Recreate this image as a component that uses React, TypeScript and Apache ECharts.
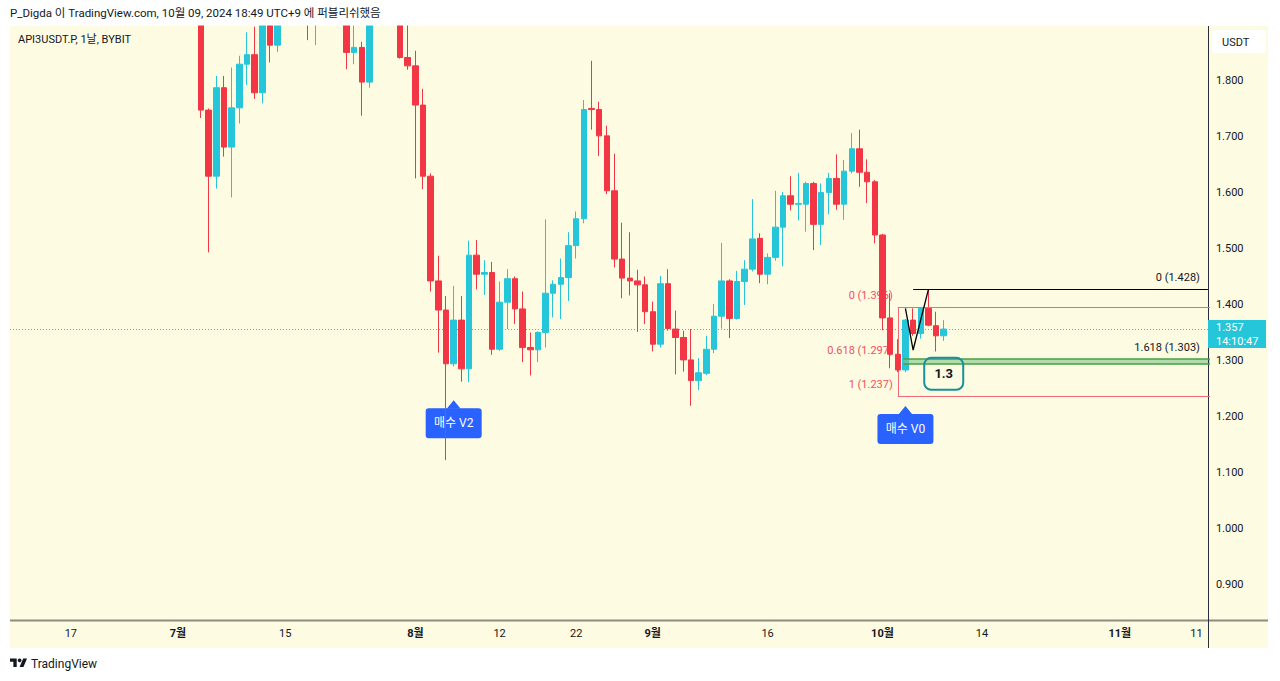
import React, { useEffect, useRef } from 'react';
import * as echarts from 'echarts';

// ---------- data ----------
const firstCategory = '2024-06-09';
const lastCategory = '2024-11-12';

// date, open, close, low, high
const ohlc: [string, number, number, number, number][] = [
  ['2024-07-04', 1.950, 1.748, 1.734, 1.965],
  ['2024-07-05', 1.748, 1.630, 1.494, 1.751],
  ['2024-07-06', 1.630, 1.788, 1.608, 1.809],
  ['2024-07-07', 1.788, 1.682, 1.665, 1.809],
  ['2024-07-08', 1.682, 1.752, 1.592, 1.824],
  ['2024-07-09', 1.752, 1.830, 1.724, 1.845],
  ['2024-07-10', 1.830, 1.847, 1.793, 1.887],
  ['2024-07-11', 1.847, 1.779, 1.768, 1.897],
  ['2024-07-12', 1.779, 1.930, 1.760, 1.945],
  ['2024-07-13', 1.930, 1.864, 1.833, 1.950],
  ['2024-07-14', 1.864, 1.960, 1.852, 1.975],
  ['2024-07-15', 1.960, 2.020, 1.930, 2.060],
  ['2024-07-16', 2.020, 1.990, 1.950, 2.050],
  ['2024-07-17', 1.990, 1.950, 1.910, 2.010],
  ['2024-07-18', 1.950, 1.905, 1.873, 1.970],
  ['2024-07-19', 1.905, 1.950, 1.864, 1.975],
  ['2024-07-20', 1.950, 1.980, 1.930, 2.000],
  ['2024-07-21', 1.980, 2.010, 1.950, 2.030],
  ['2024-07-22', 2.010, 1.960, 1.920, 2.040],
  ['2024-07-23', 1.960, 1.851, 1.821, 1.970],
  ['2024-07-24', 1.851, 1.860, 1.830, 1.905],
  ['2024-07-25', 1.860, 1.798, 1.738, 1.870],
  ['2024-07-26', 1.798, 1.940, 1.788, 1.960],
  ['2024-07-27', 1.940, 1.980, 1.920, 2.000],
  ['2024-07-28', 1.980, 1.960, 1.930, 2.010],
  ['2024-07-29', 1.960, 1.930, 1.905, 1.990],
  ['2024-07-30', 1.930, 1.842, 1.840, 1.950],
  ['2024-07-31', 1.842, 1.827, 1.820, 1.905],
  ['2024-08-01', 1.827, 1.757, 1.626, 1.854],
  ['2024-08-02', 1.757, 1.630, 1.607, 1.786],
  ['2024-08-03', 1.630, 1.443, 1.424, 1.635],
  ['2024-08-04', 1.443, 1.391, 1.315, 1.488],
  ['2024-08-05', 1.391, 1.295, 1.123, 1.416],
  ['2024-08-06', 1.295, 1.373, 1.290, 1.434],
  ['2024-08-07', 1.373, 1.286, 1.263, 1.416],
  ['2024-08-08', 1.286, 1.489, 1.262, 1.515],
  ['2024-08-09', 1.489, 1.455, 1.428, 1.516],
  ['2024-08-10', 1.455, 1.458, 1.418, 1.480],
  ['2024-08-11', 1.458, 1.321, 1.311, 1.477],
  ['2024-08-12', 1.321, 1.405, 1.318, 1.442],
  ['2024-08-13', 1.405, 1.447, 1.357, 1.464],
  ['2024-08-14', 1.447, 1.393, 1.366, 1.451],
  ['2024-08-15', 1.393, 1.324, 1.298, 1.424],
  ['2024-08-16', 1.324, 1.320, 1.274, 1.351],
  ['2024-08-17', 1.320, 1.351, 1.298, 1.353],
  ['2024-08-18', 1.351, 1.421, 1.324, 1.553],
  ['2024-08-19', 1.421, 1.437, 1.378, 1.444],
  ['2024-08-20', 1.437, 1.449, 1.375, 1.483],
  ['2024-08-21', 1.449, 1.506, 1.407, 1.530],
  ['2024-08-22', 1.506, 1.554, 1.483, 1.567],
  ['2024-08-23', 1.554, 1.749, 1.546, 1.766],
  ['2024-08-24', 1.751, 1.749, 1.713, 1.836],
  ['2024-08-25', 1.749, 1.702, 1.666, 1.763],
  ['2024-08-26', 1.702, 1.604, 1.598, 1.720],
  ['2024-08-27', 1.604, 1.482, 1.467, 1.670],
  ['2024-08-28', 1.482, 1.448, 1.412, 1.547],
  ['2024-08-29', 1.448, 1.443, 1.417, 1.530],
  ['2024-08-30', 1.443, 1.436, 1.352, 1.463],
  ['2024-08-31', 1.436, 1.388, 1.366, 1.451],
  ['2024-09-01', 1.388, 1.330, 1.317, 1.406],
  ['2024-09-02', 1.330, 1.438, 1.324, 1.452],
  ['2024-09-03', 1.438, 1.358, 1.354, 1.464],
  ['2024-09-04', 1.357, 1.342, 1.276, 1.390],
  ['2024-09-05', 1.342, 1.302, 1.281, 1.354],
  ['2024-09-06', 1.302, 1.265, 1.220, 1.357],
  ['2024-09-07', 1.265, 1.279, 1.248, 1.305],
  ['2024-09-08', 1.278, 1.321, 1.275, 1.345],
  ['2024-09-09', 1.321, 1.380, 1.314, 1.402],
  ['2024-09-10', 1.380, 1.443, 1.358, 1.511],
  ['2024-09-11', 1.443, 1.376, 1.341, 1.446],
  ['2024-09-12', 1.376, 1.442, 1.374, 1.461],
  ['2024-09-13', 1.442, 1.464, 1.400, 1.480],
  ['2024-09-14', 1.464, 1.518, 1.460, 1.589],
  ['2024-09-15', 1.519, 1.455, 1.439, 1.528],
  ['2024-09-16', 1.455, 1.485, 1.437, 1.492],
  ['2024-09-17', 1.485, 1.539, 1.479, 1.604],
  ['2024-09-18', 1.539, 1.595, 1.469, 1.602],
  ['2024-09-19', 1.595, 1.580, 1.569, 1.630],
  ['2024-09-20', 1.580, 1.581, 1.551, 1.636],
  ['2024-09-21', 1.580, 1.617, 1.531, 1.620],
  ['2024-09-22', 1.617, 1.544, 1.498, 1.620],
  ['2024-09-23', 1.544, 1.601, 1.507, 1.617],
  ['2024-09-24', 1.601, 1.626, 1.562, 1.636],
  ['2024-09-25', 1.626, 1.580, 1.570, 1.669],
  ['2024-09-26', 1.580, 1.639, 1.552, 1.659],
  ['2024-09-27', 1.639, 1.679, 1.635, 1.707],
  ['2024-09-28', 1.679, 1.637, 1.611, 1.713],
  ['2024-09-29', 1.637, 1.620, 1.582, 1.660],
  ['2024-09-30', 1.620, 1.525, 1.510, 1.623],
  ['2024-10-01', 1.525, 1.377, 1.355, 1.527],
  ['2024-10-02', 1.377, 1.312, 1.287, 1.421],
  ['2024-10-03', 1.312, 1.284, 1.280, 1.339],
  ['2024-10-04', 1.284, 1.373, 1.280, 1.375],
  ['2024-10-05', 1.373, 1.349, 1.345, 1.394],
  ['2024-10-06', 1.349, 1.394, 1.340, 1.396],
  ['2024-10-07', 1.394, 1.364, 1.362, 1.428],
  ['2024-10-08', 1.363, 1.345, 1.317, 1.388],
  ['2024-10-09', 1.345, 1.357, 1.336, 1.373],
];

const priceTicks = [0.9, 1.0, 1.1, 1.2, 1.3, 1.4, 1.5, 1.6, 1.7, 1.8];
const priceMin = 0.8375;
const priceMax = 1.8982;

const timeTicks: [string, string][] = [
  ['2024-06-17', '17'], ['2024-07-01', '7월'], ['2024-07-15', '15'], ['2024-08-01', '8월'],
  ['2024-08-12', '12'], ['2024-08-22', '22'], ['2024-09-01', '9월'], ['2024-09-16', '16'],
  ['2024-10-01', '10월'], ['2024-10-14', '14'], ['2024-11-01', '11월'], ['2024-11-11', '11'],
];

const lastPrice = 1.357;
const countdown = '14:10:47';

const redFibStart = '2024-10-03';
const redFibLevels = [
  { label: '0 (1.396)', price: 1.396 },
  { label: '0.618 (1.297)', price: 1.297 },
  { label: '1 (1.237)', price: 1.237 },
];
const blackFibPoints: [string, number][] = [
  ['2024-10-04', 1.394], ['2024-10-05', 1.3196], ['2024-10-07', 1.428],
];
const blackFibLevels = [
  { label: '0 (1.428)', price: 1.428 },
  { label: '1.618 (1.303)', price: 1.303 },
];
const buySignals = [
  { date: '2024-08-06', price: 1.230, text: '매수 V2' },
  { date: '2024-10-04', price: 1.2196, text: '매수 V0' },
];
const noteBox = { date: '2024-10-09', price: 1.278, text: '1.3' };

const headerText = 'P_Digda 이 TradingView.com, 10월 09, 2024 18:49 UTC+9 에 퍼블리쉬했음';
const symbolText = 'API3USDT.P, 1날, BYBIT';

// ---------- styling ----------
const FONT = 'Roboto, "Noto Sans CJK KR", sans-serif';
const UP = '#26C6DA';
const DOWN = '#F23645';
const TEXT = '#131722';
const BG = '#FEFBE3';

function buildDates(start: string, end: string): string[] {
  const out: string[] = [];
  let t = Date.parse(start + 'T00:00:00Z');
  const e = Date.parse(end + 'T00:00:00Z');
  while (t <= e) {
    out.push(new Date(t).toISOString().slice(0, 10));
    t += 86400000;
  }
  return out;
}

const categories = buildDates(firstCategory, lastCategory);
const tickMap: Record<string, string> = {};
timeTicks.forEach(([d, l]) => (tickMap[d] = l));

export default function App() {
  const ref = useRef<HTMLDivElement>(null);

  useEffect(() => {
    const chart = echarts.init(ref.current!, null, { renderer: 'svg' });
    chart.setOption({
      animation: false,
      textStyle: { fontFamily: FONT },
      grid: { left: 5.75, right: 72.1, top: 26, bottom: 61 },
      xAxis: {
        type: 'category',
        data: categories,
        boundaryGap: true,
        axisLine: { show: false },
        axisTick: { show: false },
        splitLine: { show: false },
        axisLabel: {
          margin: 8,
          color: TEXT,
          fontSize: 11,
          fontFamily: FONT,
          interval: (_i: number, v: string) => tickMap[v] !== undefined,
          formatter: (v: string) => {
            const l = tickMap[v] || '';
            return l.includes('월') ? `{b|${l}}` : l;
          },
          rich: { b: { fontWeight: 'bold', fontSize: 11, color: TEXT, fontFamily: FONT } },
        },
      },
      yAxis: {
        type: 'value',
        position: 'right',
        min: priceMin,
        max: priceMax,
        axisLine: { show: false },
        axisTick: { show: false },
        splitLine: { show: false },
        axisLabel: {
          customValues: priceTicks,
          margin: 8,
          color: TEXT,
          fontSize: 11,
          fontFamily: FONT,
          formatter: (v: number) => v.toFixed(3),
        },
      },
      series: [
        {
          type: 'candlestick',
          clip: true,
          barWidth: 6,
          z: 2,
          data: ohlc.map((r) => [r[0], r[1], r[2], r[3], r[4]]),
          encode: { x: 0, y: [1, 2, 3, 4] },
          itemStyle: {
            color: UP,
            color0: DOWN,
            borderColor: UP,
            borderColor0: DOWN,
            borderWidth: 1,
          },
        },
      ],
    });

    const px = (date: string, price: number) =>
      chart.convertToPixel({ xAxisIndex: 0, yAxisIndex: 0 }, [categories.indexOf(date), price]) as number[];
    const band = px(categories[1], 1)[0] - px(categories[0], 1)[0];
    const rightEdge = px(categories[categories.length - 1], 1)[0] + band / 2;
    const crisp = (v: number) => Math.round(v) + 0.5;

    const els: any[] = [];
    const txt = (x: number, y: number, text: string, o: any = {}, z = 10) =>
      els.push({
        type: 'text', x, y, z, silent: true,
        style: { text, fill: TEXT, fontSize: 11, fontFamily: FONT, align: 'left', verticalAlign: 'middle', ...o },
      });
    const line = (x1: number, y1: number, x2: number, y2: number, stroke: string, lineWidth = 1, z = 10, extra: any = {}) =>
      els.push({ type: 'line', z, silent: true, shape: { x1, y1, x2, y2 }, style: { stroke, lineWidth, ...extra } });

    // cover for candles that run above the pane
    els.push({ type: 'rect', z: 8, silent: true, shape: { x: 0, y: 0, width: 1280, height: 25.5 }, style: { fill: '#FFFFFF' } });

    // header & symbol
    txt(10, 13, headerText, { fontSize: 11.5 });
    txt(18, 39, symbolText, { fontSize: 11 });

    // current price dotted line
    const lp = px(categories[0], lastPrice)[1];
    line(10, crisp(lp), 1208, crisp(lp), UP, 1, 1, { lineDash: [1, 2] });

    // frame lines
    line(10, 620.5, 1268, 620.5, '#8C8C80', 2);
    line(1208.5, 26, 1208.5, 648, '#2A2E39', 1);

    // USDT box
    els.push({ type: 'rect', z: 10, shape: { x: 1212, y: 30, width: 54, height: 23, r: 3 }, style: { fill: '#FFFFFF' } });
    txt(1222, 42, 'USDT');

    // price tag
    els.push({ type: 'rect', z: 10, shape: { x: 1208, y: lp - 9, width: 58, height: 28 }, style: { fill: UP } });
    txt(1216, lp - 1.5, lastPrice.toFixed(3), { fill: '#FFFFFF' });
    txt(1216, lp + 12.5, countdown, { fill: '#FFFFFF' });

    // red fib retracement
    const rx = px(redFibStart, 1)[0];
    const r0 = crisp(px(redFibStart, redFibLevels[0].price)[1]);
    const r1 = crisp(px(redFibStart, redFibLevels[2].price)[1]);
    const RED_LINE = '#EE6B75';
    line(rx, r0, rightEdge + 2, r0, RED_LINE, 1);
    line(rx, r1, rightEdge + 2, r1, RED_LINE, 1);
    line(crisp(rx), r0, crisp(rx), r1, RED_LINE, 1, 1);
    redFibLevels.forEach((lv) => {
      const y = px(redFibStart, lv.price)[1];
      txt(rx - 5, y - 12, lv.label, { fill: '#F0505F', align: 'right' }, 1);
    });

    // green band (0.618 red / 1.618 black)
    const gx = px(blackFibPoints[0][0], 1)[0] - 2;
    const g1 = crisp(px(blackFibPoints[0][0], blackFibLevels[1].price)[1]) - 0.5;
    const g2 = crisp(px(blackFibPoints[0][0], redFibLevels[1].price)[1]) + 0.5;
    els.push({ type: 'rect', z: 9, shape: { x: gx, y: g1, width: rightEdge + 2 - gx, height: g2 - g1 }, style: { fill: 'rgba(129,199,132,0.6)' } });
    line(gx, g1, rightEdge + 2, g1, '#43A047', 1.5);
    line(gx, g2, rightEdge + 2, g2, '#43A047', 1.5);

    // black trend-based fib extension
    const pts = blackFibPoints.map(([d, p]) => px(d, p));
    els.push({ type: 'polyline', z: 10, silent: true, shape: { points: pts }, style: { stroke: '#000000', lineWidth: 1.3, fill: null } });
    const b0 = crisp(px(blackFibPoints[1][0], blackFibLevels[0].price)[1]);
    line(pts[1][0], b0, rightEdge, b0, '#000000', 1);
    blackFibLevels.forEach((lv) => {
      const y = px(categories[0], lv.price)[1];
      txt(rightEdge - 8, y - 12, lv.label, { align: 'right' });
    });

    // note box "1.3"
    const nb = px(noteBox.date, noteBox.price);
    els.push({
      type: 'rect', z: 10,
      shape: { x: nb[0] - 19.5, y: nb[1] - 15.5, width: 39, height: 32, r: 7 },
      style: { fill: 'rgba(0,0,0,0)', stroke: '#16909C', lineWidth: 2 },
    });
    txt(nb[0], nb[1] + 0.5, noteBox.text, { align: 'center', fontSize: 13, fontWeight: 'bold' });

    // buy signals (below candles)
    buySignals.forEach((s) => {
      const [cx, ty] = px(s.date, s.price);
      els.push({ type: 'polygon', z: 1, shape: { points: [[cx, ty], [cx + 7, ty + 8.5], [cx - 7, ty + 8.5]] }, style: { fill: '#2962FF' } });
      els.push({ type: 'rect', z: 1, shape: { x: cx - 28, y: ty + 8, width: 56, height: 30, r: 3 }, style: { fill: '#2962FF' } });
      txt(cx, ty + 23, s.text, { fill: '#FFFFFF', align: 'center', fontSize: 12 }, 1);
    });

    // TradingView logo
    els.push({
      type: 'group', x: 10, y: 656.5, scaleX: 0.48, scaleY: 0.48, z: 10,
      children: [
        { type: 'polygon', shape: { points: [[0, 4], [14, 4], [14, 22], [7, 22], [7, 11], [0, 11]] }, style: { fill: TEXT } },
        { type: 'circle', shape: { cx: 20, cy: 8, r: 4 }, style: { fill: TEXT } },
        { type: 'polygon', shape: { points: [[20, 22], [27.5, 4], [35.5, 4], [28, 22]] }, style: { fill: TEXT } },
      ],
    });
    txt(31, 663.5, 'TradingView', { fontSize: 12 });

    chart.setOption({ graphic: { elements: els } });
    return () => chart.dispose();
  }, []);

  return (
    <div style={{ position: 'absolute', left: 0, top: 0, width: 1280, height: 681, background: '#FFFFFF' }}>
      <div style={{ position: 'absolute', left: 10, top: 26, width: 1258, height: 622, background: BG }} />
      <div ref={ref} style={{ position: 'absolute', left: 0, top: 0, width: 1280, height: 681 }} />
    </div>
  );
}
